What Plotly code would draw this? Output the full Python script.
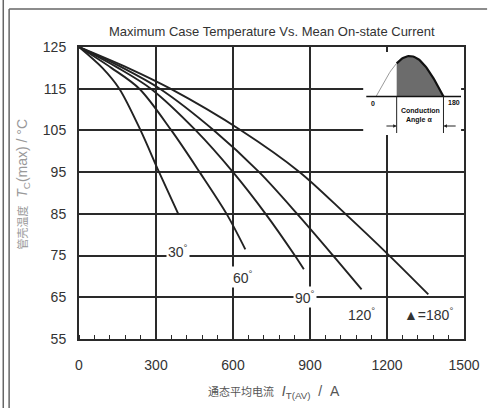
import numpy as np
import plotly.graph_objects as go

# ---- data ----
angles = ["30", "60", "90", "120", "180"]
i_30 = [0, 91, 157, 240, 312, 388]
t_30 = [125, 120, 115, 105, 95, 84.8]
i_60 = [0, 126, 235, 360, 470, 575, 648]
t_60 = [125, 120, 115, 105, 95, 85, 76.5]
i_90 = [0, 152, 280, 455, 600, 727, 841, 876]
t_90 = [125, 120, 115, 105, 95, 85, 75, 71.7]
i_120 = [0, 171, 315, 526, 702, 850, 990, 1101]
t_120 = [125, 120, 115, 105, 95, 85, 75, 66.9]
i_180 = [0, 190, 356, 632, 860, 1038, 1209, 1361]
t_180 = [125, 120, 115, 105, 95, 85, 75, 65.7]

label_x = [385, 640, 880, 1100, 1360]
label_y = [76.2, 69.8, 65.1, 61.0, 61.0]
label_text = ["30<sup>°</sup>", "60<sup>°</sup>", "90<sup>°</sup>", "120<sup>°</sup>", "▲=180<sup>°</sup>"]

x_ticks = [0, 300, 600, 900, 1200, 1500]
y_ticks = [55, 65, 75, 85, 95, 105, 115, 125]

# inset (schematic half sine wave, conduction angle)
inset_theta = np.linspace(0, 180, 61)
conduction_start = 55  # degrees

FONT = "Liberation Sans Narrow, Liberation Sans, Arial, Noto Sans CJK SC"
INK = "#222222"

fig = go.Figure()

series = [(i_30, t_30), (i_60, t_60), (i_90, t_90), (i_120, t_120), (i_180, t_180)]
for (xs, ys), name in zip(series, angles):
    fig.add_trace(go.Scatter(x=xs, y=ys, mode="lines", name=name,
                             line=dict(color=INK, width=1.9, shape="spline", smoothing=0.9),
                             showlegend=False, hoverinfo="skip"))

for x, y, t in zip(label_x, label_y, label_text):
    fig.add_annotation(x=x, y=y, xref="x", yref="y", text=t, showarrow=False,
                       font=dict(family=FONT, size=14, color="#333"),
                       bgcolor="white", borderpad=1)

# ---- inset in its own small axes ----
def ix(th):
    return 13 + np.asarray(th) / 180 * 69

def iy(th):
    return 38.5 + 40.5 * np.sin(np.radians(th))

# white cover
fig.add_trace(go.Scatter(x=[0, 100, 100, 0, 0], y=[0, 0, 75, 75, 0], xaxis="x2", yaxis="y2",
                         mode="lines", fill="toself", fillcolor="white",
                         line=dict(color="white", width=0), showlegend=False, hoverinfo="skip"))
th_left = inset_theta[inset_theta <= conduction_start]
th_right = np.concatenate([[conduction_start], inset_theta[inset_theta > conduction_start]])
# shaded region
fig.add_trace(go.Scatter(x=list(ix(th_right)) + [ix(180), ix(conduction_start)],
                         y=list(iy(th_right)) + [38.5, 38.5], xaxis="x2", yaxis="y2",
                         mode="lines", fill="toself", fillcolor="#6c6c6c",
                         line=dict(color="rgba(0,0,0,0)", width=0), showlegend=False, hoverinfo="skip"))
fig.add_trace(go.Scatter(x=ix(th_left), y=iy(th_left), xaxis="x2", yaxis="y2", mode="lines",
                         line=dict(color="#9a9a9a", width=1), showlegend=False, hoverinfo="skip"))
fig.add_trace(go.Scatter(x=ix(th_right), y=iy(th_right), xaxis="x2", yaxis="y2", mode="lines",
                         line=dict(color="#111", width=2.2), showlegend=False, hoverinfo="skip"))
# baseline
fig.add_trace(go.Scatter(x=[3, 100], y=[38.5, 38.5], xaxis="x2", yaxis="y2", mode="lines",
                         line=dict(color="#111", width=1.6), showlegend=False, hoverinfo="skip"))
# extension lines
for th in [conduction_start, 180]:
    fig.add_trace(go.Scatter(x=[ix(th), ix(th)], y=[38.5, 2], xaxis="x2", yaxis="y2", mode="lines",
                             line=dict(color="#222", width=1), showlegend=False, hoverinfo="skip"))
# dimension arrows
fig.add_annotation(x=ix(conduction_start), y=9, ax=ix(conduction_start) - 12, ay=9,
                   xref="x2", yref="y2", axref="x2", ayref="y2", text="", showarrow=True,
                   arrowhead=2, arrowsize=0.7, arrowwidth=1, arrowcolor="#222")
fig.add_annotation(x=ix(180), y=9, ax=ix(180) + 14, ay=9,
                   xref="x2", yref="y2", axref="x2", ayref="y2", text="", showarrow=True,
                   arrowhead=2, arrowsize=0.7, arrowwidth=1, arrowcolor="#222")
inset_font = dict(family=FONT, size=7, color="#111")
fig.add_annotation(x=10, y=32, xref="x2", yref="y2", text="<b>0</b>", showarrow=False, font=inset_font)
fig.add_annotation(x=93, y=33, xref="x2", yref="y2", text="<b>180</b>", showarrow=False, font=inset_font)
fig.add_annotation(x=58, y=25, xref="x2", yref="y2", text="<b>Conduction</b>", showarrow=False, font=inset_font)
fig.add_annotation(x=57, y=15, xref="x2", yref="y2", text="<b>Angle α</b>", showarrow=False, font=inset_font)

# titles
fig.add_annotation(x=0.5025, y=1.0524, xref="paper", yref="paper", xanchor="center", yanchor="middle",
                   text="Maximum Case Temperature Vs. Mean On-state Current",
                   showarrow=False, font=dict(family=FONT, size=13, color="#333"))
fig.add_annotation(x=0.5076, y=-0.1815, xref="paper", yref="paper", xanchor="center", yanchor="middle",
                   text="<span style='font-size:11px'>通态平均电流</span>&nbsp;&nbsp;<i>I</i><sub>T(AV)</sub>&nbsp;&nbsp;/&nbsp;&nbsp;A",
                   showarrow=False, font=dict(family=FONT, size=14, color="#555"))
fig.add_annotation(x=-0.1447, y=0.53, xref="paper", yref="paper", xanchor="center", yanchor="middle",
                   textangle=-90,
                   text="<span style='font-size:11px'>管壳温度</span>&nbsp;&nbsp;<i>T</i><sub>C</sub>(max) / °C",
                   showarrow=False, font=dict(family=FONT, size=14, color="#999"))

# outer frame lines (paper coords)
frame = dict(color="#666", width=1.5)
fig.add_shape(type="line", xref="paper", yref="paper", x0=-0.1967, x1=-0.1967, y0=1.2, y1=-0.25, line=frame)
fig.add_shape(type="line", xref="paper", yref="paper", x0=-0.1815, x1=-0.1815, y0=1.130, y1=-0.25, line=frame)
fig.add_shape(type="line", xref="paper", yref="paper", x0=-0.1815, x1=1.06, y0=1.130, y1=1.130, line=frame)

fig.update_layout(
    width=492, height=408,
    margin=dict(l=79, r=19, t=47, b=69),
    paper_bgcolor="white", plot_bgcolor="white",
    showlegend=False,
    xaxis=dict(range=[0, 1500], tickvals=x_ticks, showgrid=True, gridcolor="#2a2a2a", gridwidth=1.6,
               zeroline=False, showline=True, mirror=True, linecolor="#2a2a2a", linewidth=2,
               ticks="", ticklabelstandoff=12,
               tickfont=dict(family=FONT, size=14, color="#333"),
               minor=dict(dtick=60, ticks="inside", ticklen=4, tickcolor="#2a2a2a", tickwidth=1.2, showgrid=False),
               fixedrange=True),
    yaxis=dict(range=[55, 125], tickvals=y_ticks, showgrid=True, gridcolor="#2a2a2a", gridwidth=1.6,
               zeroline=False, showline=True, mirror=True, linecolor="#2a2a2a", linewidth=2,
               ticks="", ticklabelstandoff=8,
               tickfont=dict(family=FONT, size=14, color="#333"), fixedrange=True),
    xaxis2=dict(domain=[0.7386, 0.9924], range=[0, 100], visible=False, fixedrange=True, anchor="y2"),
    yaxis2=dict(domain=[0.6986, 0.9829], range=[0, 83], visible=False, fixedrange=True, anchor="x2"),
)

fig.write_html("out.html", config={"displayModeBar": False},
               post_script="document.body.style.margin='0';document.body.style.padding='0';document.body.style.overflow='hidden';")
